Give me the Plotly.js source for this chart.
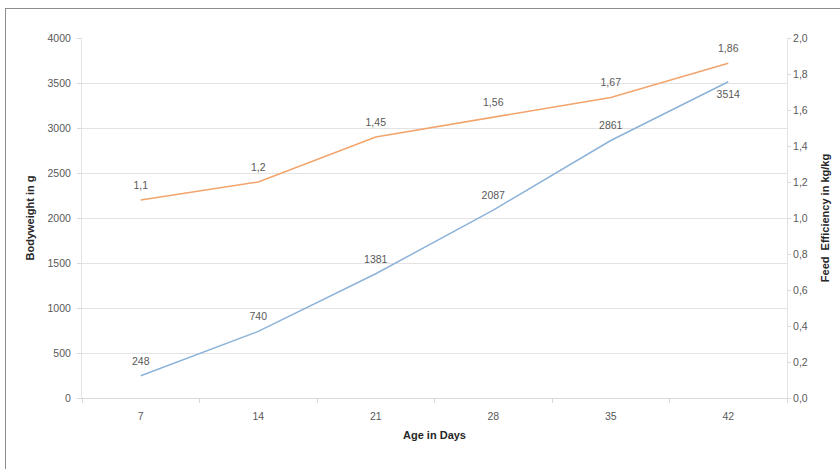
<!DOCTYPE html>
<html>
<head>
<meta charset="utf-8">
<script src="https://cdn.plot.ly/plotly-3.0.1.min.js"></script>
<style>
  html, body { margin: 0; padding: 0; background: #ffffff; overflow: hidden; }
  #wrap { position: relative; width: 840px; height: 469px; }
  #frame { position: absolute; left: 5px; top: 8px; width: 900px; height: 500px;
           border: 1px solid #8c8c8c; box-sizing: border-box; }
  #chart { position: absolute; left: 0; top: 0; width: 840px; height: 469px; }
</style>
</head>
<body>
<div id="wrap">
  <div id="frame"></div>
  <div id="chart"></div>
</div>
<script>
// Broiler growth: age (days), body weight (g) and feed efficiency (kg/kg)
const ageDays = ['7', '14', '21', '28', '35', '42'];
const bodyweight = [248, 740, 1381, 2087, 2861, 3514];
const feedEfficiency = [1.1, 1.2, 1.45, 1.56, 1.67, 1.86];

const labelFont = { family: 'Liberation Sans, Arial, sans-serif', size: 10.5, color: '#595959' };
const titleFont = { family: 'Liberation Sans, Arial, sans-serif', size: 11, color: '#262626', weight: 'bold' };

const comma = v => String(v).replace('.', ',');

const weightTrace = {
  x: ageDays,
  y: bodyweight,
  name: 'Bodyweight',
  type: 'scatter',
  mode: 'lines+markers+text',
  line: { color: '#8db3d9', width: 1.5 },
  marker: { size: 12, color: 'rgba(0,0,0,0)' },
  text: bodyweight.map(String),
  textposition: bodyweight.map((v, i) => i === bodyweight.length - 1 ? 'bottom center' : 'top center'),
  textfont: labelFont,
  hoverinfo: 'x+y',
  yaxis: 'y'
};

const efficiencyTrace = {
  x: ageDays,
  y: feedEfficiency,
  name: 'Feed Efficiency',
  type: 'scatter',
  mode: 'lines+markers+text',
  line: { color: '#f2a46c', width: 1.5 },
  marker: { size: 12, color: 'rgba(0,0,0,0)' },
  text: feedEfficiency.map(comma),
  textposition: 'top center',
  textfont: labelFont,
  hoverinfo: 'x+y',
  yaxis: 'y2'
};

const layout = {
  width: 840,
  height: 469,
  margin: { l: 82, r: 53, t: 38, b: 71 },
  paper_bgcolor: 'rgba(0,0,0,0)',
  plot_bgcolor: '#ffffff',
  showlegend: false,
  separators: ',.',
  font: labelFont,
  xaxis: {
    type: 'category',
    range: [-0.5, 5.5],
    tickson: 'boundaries',
    ticks: 'outside',
    ticklen: 4,
    tickcolor: '#d9d9d9',
    ticklabelstandoff: 8,
    showgrid: false,
    showline: true,
    linecolor: '#d9d9d9',
    tickfont: labelFont,
    title: { text: 'Age in Days', font: titleFont, standoff: 10 }
  },
  yaxis: {
    range: [0, 4000],
    dtick: 500,
    ticks: 'outside',
    ticklen: 4,
    tickcolor: '#d9d9d9',
    ticklabelstandoff: 4,
    showgrid: true,
    gridcolor: '#e3e3e3',
    showline: true,
    linecolor: '#e3e3e3',
    zeroline: false,
    tickfont: labelFont,
    title: { text: 'Bodyweight in g', font: titleFont, standoff: 10 }
  },
  yaxis2: {
    range: [0, 2],
    dtick: 0.2,
    tickformat: '.1f',
    overlaying: 'y',
    side: 'right',
    ticks: 'outside',
    ticklen: 3,
    tickcolor: '#d9d9d9',
    showgrid: false,
    showline: true,
    linecolor: '#e3e3e3',
    zeroline: false,
    tickfont: labelFont,
    title: { text: 'Feed  Efficiency in kg/kg', font: titleFont, standoff: 14 }
  }
};

Plotly.newPlot('chart', [weightTrace, efficiencyTrace], layout, { displayModeBar: false, staticPlot: true });
</script>
</body>
</html>
